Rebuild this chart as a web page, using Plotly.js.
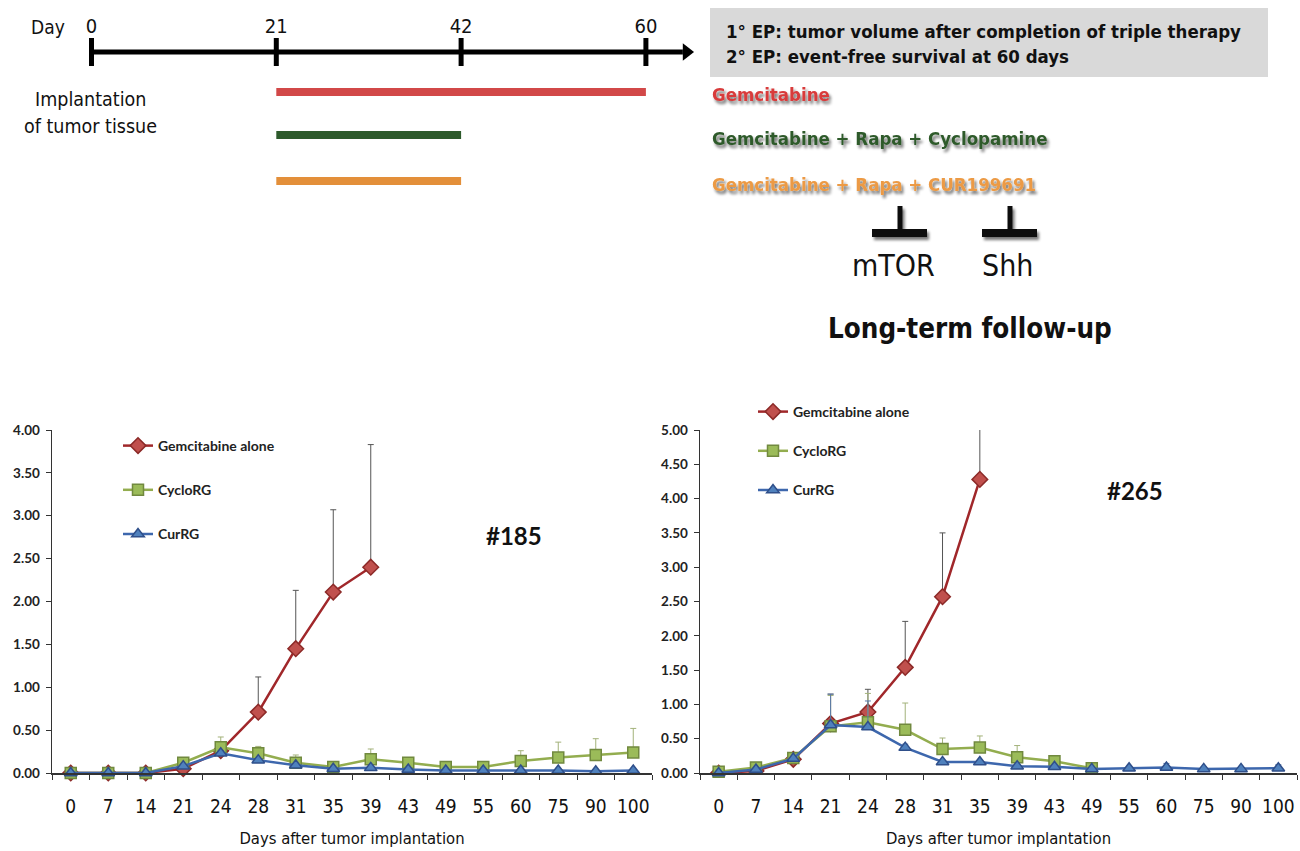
<!DOCTYPE html>
<html>
<head>
<meta charset="utf-8">
<script src="https://cdn.plot.ly/plotly-3.0.1.min.js"></script>
<style>html,body{margin:0;padding:0;background:#fff;}</style>
</head>
<body>
<div id="chart" style="width:1300px;height:851px;"></div>
<script>
// ---------------- DATA ----------------
// Schematic timeline
const timelineDays = [0, 21, 42, 60];
const treatments = ['Gemcitabine', 'Gemcitabine + Rapa + Cyclopamine', 'Gemcitabine + Rapa + CUR199691'];
const treatStart = [21, 21, 21];
const treatEnd = [60, 42, 42];
const endpoints = ['1\u00B0 EP: tumor volume after completion of triple therapy', '2\u00B0 EP: event-free survival at 60 days'];
const targets = ['mTOR', 'Shh'];

// Follow-up charts (x = days after tumor implantation)
const days = ['0','7','14','21','24','28','31','35','39','43','49','55','60','75','90','100'];
const seriesNames = ['Gemcitabine alone', 'CycloRG', 'CurRG'];

// Tumor #185
const gem185      = [0, 0, 0, 0.05, 0.26, 0.71, 1.45, 2.11, 2.40];
const gem185Err   = [0, 0, 0, 0, 0, 0.41, 0.68, 0.96, 1.43];
const cyclo185    = [0, 0, 0, 0.12, 0.30, 0.23, 0.12, 0.07, 0.16, 0.12, 0.07, 0.07, 0.14, 0.18, 0.21, 0.24];
const cyclo185Err = [0, 0, 0, 0.04, 0.12, 0.08, 0.09, 0.02, 0.12, 0.05, 0.03, 0.02, 0.12, 0.18, 0.19, 0.28];
const cur185      = [0, 0, 0, 0.08, 0.23, 0.15, 0.09, 0.05, 0.06, 0.04, 0.03, 0.03, 0.03, 0.03, 0.02, 0.03];
const cur185Err   = [0, 0, 0, 0.02, 0.03, 0.02, 0.02, 0.01, 0.02, 0.01, 0.01, 0.01, 0.01, 0.01, 0.01, 0.01];

// Tumor #265
const gem265      = [0, 0.03, 0.20, 0.72, 0.89, 1.54, 2.57, 4.28];
const gem265Err   = [0, 0, 0, 0.43, 0.33, 0.67, 0.93, 0.90];
const cyclo265    = [0.02, 0.08, 0.22, 0.68, 0.74, 0.63, 0.35, 0.37, 0.23, 0.17, 0.07];
const cyclo265Err = [0, 0.02, 0.03, 0.45, 0.42, 0.39, 0.16, 0.17, 0.17, 0.06, 0.02];
const cur265      = [0, 0.05, 0.21, 0.70, 0.67, 0.37, 0.16, 0.16, 0.10, 0.09, 0.06, 0.07, 0.08, 0.06, 0.06, 0.07];
const cur265Err   = [0, 0.01, 0.02, 0.45, 0.38, 0.05, 0.02, 0.02, 0.02, 0.02, 0.02, 0.02, 0.06, 0.03, 0.02, 0.05];

const panelLabels = ['#185', '#265'];

// ---------------- LAYOUT HELPERS ----------------
const W = 1300, H = 851;
const px = v => v / W;
const py = v => 1 - v / H;
const COND = '"DejaVu Sans Condensed", "Liberation Sans Narrow", "DejaVu Sans", sans-serif';
const CHARTF = 'Lato, "Open Sans", sans-serif';
const treatColors = ['#d24848', '#2d5a2b', '#e38f3a'];
const textColors  = ['#d83b3b', '#2f5a2b', '#ec9a44'];
// vertical pixel rows of the schematic (layout, not data)
const rowTimeline = 52;
const rowTreat = [92, 135, 181];
const rowTreatText = [95, 138, 184];

const sty = {
  gem:   {line: '#a0272a', fill: '#c0504d', edge: '#8c2a28', sym: 'diamond', err: '#555555', size: 12},
  cyclo: {line: '#93ad4f', fill: '#9bbb59', edge: '#71893f', sym: 'square', err: '#a3b27a', size: 11},
  cur:   {line: '#3d67ad', fill: '#4f81bd', edge: '#2f4f8a', sym: 'triangle-up', err: '#5a78a8', size: 11}
};

function series(name, y, err, s, xa, ya, leg, clip) {
  return {
    type: 'scatter', mode: 'lines+markers', name: name,
    x: days.slice(0, y.length), y: y,
    xaxis: xa, yaxis: ya, legend: leg, legendgroup: leg + name,
    cliponaxis: clip,
    line: {color: s.line, width: 2.5},
    marker: {symbol: s.sym, size: s.size, color: s.fill, line: {color: s.edge, width: 1.5}},
    error_y: {type: 'data', symmetric: false, array: err, arrayminus: err.map(() => 0),
              color: s.err, thickness: 1, width: 3}
  };
}

const idx = d => timelineDays.indexOf(d);
const traces = [];

// timeline axis line
traces.push({type: 'scatter', mode: 'lines', x: [0, 3.2], y: [rowTimeline, rowTimeline], xaxis: 'x3', yaxis: 'y3',
  line: {color: '#000', width: 5}, showlegend: false, hoverinfo: 'skip'});
// timeline arrow head
traces.push({type: 'scatter', mode: 'markers', x: [3.22], y: [rowTimeline], xaxis: 'x3', yaxis: 'y3',
  marker: {symbol: 'triangle-right', size: 15, color: '#000'}, showlegend: false, hoverinfo: 'skip'});
// timeline ticks
traces.push({type: 'scatter', mode: 'markers', x: timelineDays.map(idx), y: timelineDays.map(() => rowTimeline),
  xaxis: 'x3', yaxis: 'y3', cliponaxis: false,
  marker: {symbol: 'line-ns', size: 20, line: {color: '#000', width: 5}}, showlegend: false, hoverinfo: 'skip'});
// treatment bars
treatments.forEach((t, i) => {
  traces.push({type: 'scatter', mode: 'lines', name: t, x: [idx(treatStart[i]), idx(treatEnd[i])], y: [rowTreat[i], rowTreat[i]],
    xaxis: 'x3', yaxis: 'y3', line: {color: treatColors[i], width: 8}, showlegend: false, hoverinfo: 'skip'});
});

// charts
traces.push(series(seriesNames[0], gem185, gem185Err, sty.gem, 'x', 'y', 'legend', false));
traces.push(series(seriesNames[1], cyclo185, cyclo185Err, sty.cyclo, 'x', 'y', 'legend', false));
traces.push(series(seriesNames[2], cur185, cur185Err, sty.cur, 'x', 'y', 'legend', false));
traces.push(series(seriesNames[0], gem265, gem265Err, sty.gem, 'x2', 'y2', 'legend2', true));
traces.push(series(seriesNames[1], cyclo265, cyclo265Err, sty.cyclo, 'x2', 'y2', 'legend2', false));
traces.push(series(seriesNames[2], cur265, cur265Err, sty.cur, 'x2', 'y2', 'legend2', false));

// ---------------- ANNOTATIONS / SHAPES ----------------
const ann = [];
const shp = [];
const shadowAnn = [];
const shadowShp = [];
function txt(text, x, y, opts, shadow) {
  if (shadow) shadowAnn.push(ann.length);
  ann.push(Object.assign({text: text, x: px(x), y: py(y), xref: 'paper', yref: 'paper',
    showarrow: false, xanchor: 'center', yanchor: 'middle',
    font: {family: COND, size: 19.5, color: '#111'}}, opts || {}));
}
txt('Day', 48, 27, {font: {family: COND, size: 19, color: '#111'}});
txt('Implantation', 90, 100);
txt('of tumor tissue', 90, 126);

// endpoint box
shp.push({type: 'rect', xref: 'paper', yref: 'paper', x0: px(710), x1: px(1268), y0: py(77), y1: py(8),
  fillcolor: '#d9d9d9', line: {width: 0}, layer: 'below'});
endpoints.forEach((e, i) => txt('<b>' + e + '</b>', 724, 32 + i * 25,
  {xanchor: 'left', font: {family: COND, size: 18.5, color: '#111'}}));

// treatment labels (with drop shadow)
treatments.forEach((t, i) => {
  txt('<b>' + t + '</b>', 710, rowTreatText[i],
    {xanchor: 'left', font: {family: COND, size: 18.5, color: textColors[i]}}, true);
});

// inhibitor symbols (with drop shadow)
const inhX = [900, 1010];
const inhLabelX = [893, 1007];
inhX.forEach((cx, i) => {
  shadowShp.push(shp.length);
  shp.push({type: 'line', xref: 'paper', yref: 'paper', x0: px(cx), x1: px(cx), y0: py(206), y1: py(230),
    line: {color: '#111', width: 5}});
  shadowShp.push(shp.length);
  shp.push({type: 'line', xref: 'paper', yref: 'paper', x0: px(cx - 28), x1: px(cx + 27), y0: py(233), y1: py(233),
    line: {color: '#111', width: 8}});
  txt(targets[i], inhLabelX[i], 265, {font: {family: COND, size: 30, color: '#111'}});
});
txt('<b>Long-term follow-up</b>', 970, 328, {font: {family: COND, size: 27.5, color: '#111'}});

txt('<b>' + panelLabels[0] + '</b>', 514, 535, {font: {family: CHARTF, size: 24, color: '#111'}});
txt('<b>' + panelLabels[1] + '</b>', 1135, 490, {font: {family: CHARTF, size: 24, color: '#111'}});

// ---------------- AXES ----------------
function xCat(domain, anchor) {
  return {domain: domain, anchor: anchor, type: 'category', categoryarray: days, categoryorder: 'array',
    range: [-0.5, 15.5], showline: true, linecolor: '#333', linewidth: 1.5, ticks: 'outside', ticklen: 5,
    tickcolor: '#333', tickson: 'boundaries', showgrid: false, zeroline: false, ticklabelstandoff: 16,
    tickangle: 0, tickfont: {family: COND, size: 19, color: '#111'},
    title: {text: 'Days after tumor implantation', font: {family: COND, size: 16.5, color: '#111'}, standoff: 16}};
}
function yLin(domain, anchor, max) {
  return {domain: domain, anchor: anchor, range: [0, max], dtick: 0.5, tickformat: '.2f',
    showline: true, linecolor: '#333', linewidth: 1.5, ticks: 'outside', ticklen: 5, tickcolor: '#333',
    ticklabelstandoff: 3,
    showgrid: false, zeroline: false, tickfont: {family: CHARTF, size: 13.5, color: '#222', weight: 'bold'}};
}

const legendBase = {bgcolor: 'rgba(0,0,0,0)', traceorder: 'grouped', itemwidth: 30,
  xanchor: 'left', yanchor: 'top', font: {family: CHARTF, size: 14, color: '#222', weight: 'bold'}};

const layout = {
  width: W, height: H, margin: {l: 0, r: 0, t: 0, b: 0},
  paper_bgcolor: '#fff', plot_bgcolor: 'rgba(0,0,0,0)',
  xaxis: xCat([px(52), px(652)], 'y'),
  yaxis: yLin([py(773), py(430)], 'x', 4),
  xaxis2: xCat([px(700), px(1297)], 'y2'),
  yaxis2: yLin([py(773), py(430)], 'x2', 5),
  xaxis3: {domain: [px(91.5), px(91.5 + 3.3 * 184.8)], range: [0, 3.3], anchor: 'free', position: py(37), side: 'top',
    tickvals: timelineDays.map(idx), ticktext: timelineDays.map(String), ticks: '', showline: false,
    showgrid: false, zeroline: false, tickfont: {family: COND, size: 20, color: '#111'}},
  yaxis3: {domain: [py(200), 1], range: [200, 0], visible: false, anchor: 'x3'},
  legend: Object.assign({}, legendBase, {x: px(118), y: py(430), tracegroupgap: 23}),
  legend2: Object.assign({}, legendBase, {x: px(753), y: py(396), tracegroupgap: 18}),
  annotations: ann, shapes: shp, showlegend: true
};

Plotly.newPlot('chart', traces, layout, {displayModeBar: false, staticPlot: true}).then(gd => {
  const NS = 'http://www.w3.org/2000/svg';
  const svg = gd.querySelector('svg.main-svg');
  let defs = svg.querySelector('defs');
  if (!defs) { defs = document.createElementNS(NS, 'defs'); svg.insertBefore(defs, svg.firstChild); }
  const f = document.createElementNS(NS, 'filter');
  f.setAttribute('id', 'softShadow');
  f.setAttribute('filterUnits', 'userSpaceOnUse');
  f.setAttribute('x', '0'); f.setAttribute('y', '0');
  f.setAttribute('width', String(W)); f.setAttribute('height', String(H));
  f.innerHTML = '<feGaussianBlur in="SourceAlpha" stdDeviation="1.6"/>' +
    '<feOffset dx="2" dy="3" result="o"/>' +
    '<feComponentTransfer><feFuncA type="linear" slope="0.55"/></feComponentTransfer>' +
    '<feMerge><feMergeNode/><feMergeNode in="SourceGraphic"/></feMerge>';
  defs.appendChild(f);
  gd.querySelectorAll('.annotation').forEach(a => {
    const i = +a.getAttribute('data-index');
    if (shadowAnn.indexOf(i) >= 0) a.setAttribute('filter', 'url(#softShadow)');
  });
  gd.querySelectorAll('.shapelayer path').forEach(p => {
    const i = +p.getAttribute('data-index');
    if (shadowShp.indexOf(i) >= 0) p.setAttribute('filter', 'url(#softShadow)');
  });
});
</script>
</body>
</html>
